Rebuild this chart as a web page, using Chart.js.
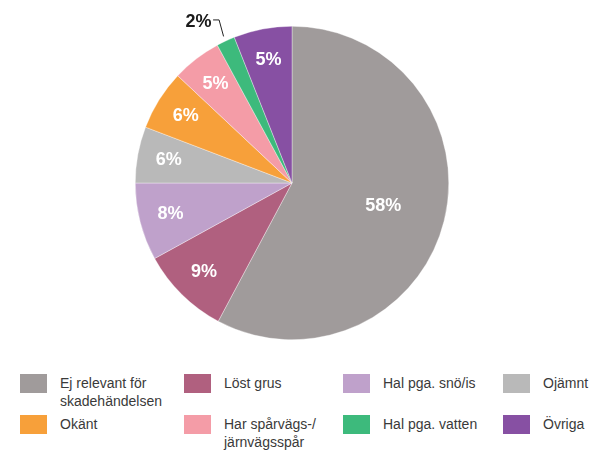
<!DOCTYPE html>
<html>
<head>
<meta charset="utf-8">
<script src="https://cdn.jsdelivr.net/npm/chart.js@4"></script>
<style>
    body { margin: 0; background: #fff; font-family: Arial, "Liberation Sans", sans-serif; }
    #wrap { position: relative; width: 595px; height: 360px; }
    #legend {
        position: absolute; left: 20px; top: 374px;
        display: grid;
        grid-template-columns: 164px 159px 160px 92px;
        grid-auto-rows: 41px;
    }
    .item { position: relative; padding-left: 40px; padding-top: 1px; font-size: 14px; line-height: 17.5px; color: #3a3a3a; }
    .sw { position: absolute; left: 0; top: 0; width: 27px; height: 19px; }
</style>
</head>
<body>
<div id="wrap"><canvas id="pieChart"></canvas></div>
<div id="legend"></div>

<script>
// ---------------------------------------------------------
// DATA
// ---------------------------------------------------------
const categories = [
    "Ej relevant för\nskadehändelsen",
    "Löst grus",
    "Hal pga. snö/is",
    "Ojämnt",
    "Okänt",
    "Har spårvägs-/\njärnvägsspår",
    "Hal pga. vatten",
    "Övriga"
];
const shares = [57.8, 9.2, 8.0, 5.8, 6.2, 5.1, 1.9, 6.0];
const shareLabels = ["58%", "9%", "8%", "6%", "6%", "5%", "2%", "5%"];
const colors = ["#a09b9b", "#b0607f", "#bfa1cb", "#b9b9b9", "#f7a03a", "#f49ca7", "#3dba7c", "#8750a3"];

// legend order (4 columns, 2 rows)
const legendOrder = [0, 1, 2, 3, 4, 5, 6, 7];

// ---------------------------------------------------------
// SLICE LABELS
// ---------------------------------------------------------
const sliceLabels = {
    id: "sliceLabels",
    afterDatasetsDraw(chart) {
        const ctx = chart.ctx;
        const meta = chart.getDatasetMeta(0);
        ctx.save();
        ctx.font = "bold 18px Arial, 'Liberation Sans', sans-serif";
        meta.data.forEach((arc, i) => {
            const p = arc.getProps(["x", "y", "startAngle", "endAngle", "outerRadius"], true);
            const mid = (p.startAngle + p.endAngle) / 2;
            const cos = Math.cos(mid), sin = Math.sin(mid);
            if (shares[i] < 3) {
                // small slice -> label outside with leader line
                const ex = p.x + cos * (p.outerRadius + 5);
                const ey = p.y + sin * (p.outerRadius + 5);
                const bx = ex - 4.5, by = ey - 16.5;
                ctx.strokeStyle = "#222";
                ctx.lineWidth = 1;
                ctx.beginPath();
                ctx.moveTo(ex, ey);
                ctx.lineTo(bx, by);
                ctx.lineTo(bx - 6, by);
                ctx.stroke();
                ctx.fillStyle = "#1a1a1a";
                ctx.textAlign = "right";
                ctx.textBaseline = "middle";
                ctx.fillText(shareLabels[i], bx - 7.5, by + 2);
            } else {
                const r = p.outerRadius * (shares[i] > 25 ? 0.6 : 0.8);
                ctx.fillStyle = "#fff";
                ctx.textAlign = "center";
                ctx.textBaseline = "middle";
                ctx.fillText(shareLabels[i], p.x + cos * r, p.y + sin * r);
            }
        });
        ctx.restore();
    }
};

// ---------------------------------------------------------
// CHART
// ---------------------------------------------------------
new Chart(document.getElementById("pieChart"), {
    type: "pie",
    data: {
        labels: categories,
        datasets: [{
            data: shares,
            backgroundColor: colors,
            borderColor: "rgba(255,255,255,0.7)",
            borderWidth: 0.5
        }]
    },
    options: {
        responsive: true,
        maintainAspectRatio: false,
        animation: false,
        layout: { padding: { top: 26, bottom: 20, left: 0, right: 11 } },
        plugins: {
            legend: { display: false },
            tooltip: { enabled: false }
        }
    },
    plugins: [sliceLabels]
});

// ---------------------------------------------------------
// HTML LEGEND
// ---------------------------------------------------------
const legendEl = document.getElementById("legend");
legendOrder.forEach(i => {
    const item = document.createElement("div");
    item.className = "item";
    const sw = document.createElement("span");
    sw.className = "sw";
    sw.style.background = colors[i];
    item.appendChild(sw);
    categories[i].split("\n").forEach((line, k) => {
        if (k > 0) item.appendChild(document.createElement("br"));
        item.appendChild(document.createTextNode(line));
    });
    legendEl.appendChild(item);
});
</script>
</body>
</html>
